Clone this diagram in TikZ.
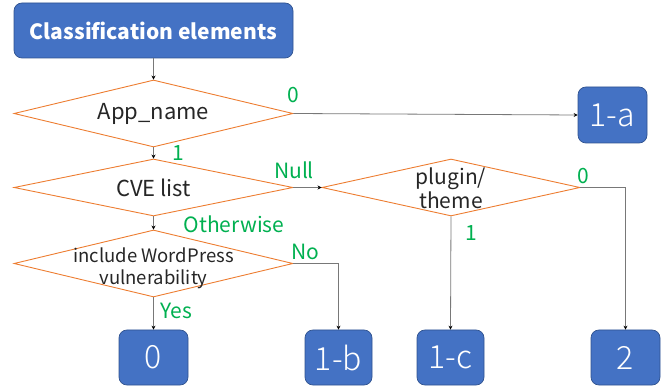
\documentclass[tikz,border=0pt]{standalone}
\usepackage{fontspec}
\setmainfont{Noto Sans CJK JP}
\newfontfamily\lightfont{Noto Sans CJK JP}[UprightFont=* Light]
\usetikzlibrary{shapes.geometric,arrows.meta}
\definecolor{boxblue}{HTML}{4472C4}
\definecolor{boxedge}{HTML}{2F528F}
\definecolor{dorange}{HTML}{ED7D31}
\definecolor{lgreen}{RGB}{0,176,80}
\definecolor{lgray}{RGB}{120,120,120}
\tikzset{
  bluebox/.style={draw=boxedge, line width=0.7pt, fill=boxblue, rounded corners=8pt, text=white, inner sep=0pt, font=\lightfont\fontsize{32}{34}\selectfont},
  decision/.style={diamond, draw=dorange, line width=0.9pt, inner sep=0pt},
  dtext/.style={text=black!85, font=\fontsize{22}{24}\selectfont, align=center},
  conn/.style={draw=lgray, line width=0.8pt, -{Stealth[length=4pt,width=4pt,color=black]}},
  lab/.style={text=lgreen, font=\fontsize{21}{22}\selectfont, inner sep=0pt}
}
\begin{document}
\begin{tikzpicture}[x=1pt,y=-1pt]
\useasboundingbox (0,0) rectangle (662,390);
% boxes
\node[bluebox, minimum width=279pt, minimum height=55pt, font=\fontsize{21}{22}\selectfont\bfseries] (title) at (153.5,30.5) {Classification elements};
\node[bluebox, minimum width=69pt, minimum height=56pt] (b1a) at (612.5,115) {1-a};
\node[bluebox, minimum width=69pt, minimum height=55pt] (b0) at (153.5,357.5) {0};
\node[bluebox, minimum width=67pt, minimum height=55pt] (b1b) at (338.5,357.5) {1-b};
\node[bluebox, minimum width=67pt, minimum height=55pt] (b1c) at (450.5,357.5) {1-c};
\node[bluebox, minimum width=69pt, minimum height=55pt] (b2) at (625.5,357.5) {2};
% decisions
\node[decision, minimum width=279pt, minimum height=67pt] (app) at (153.5,113.5) {};
\node[decision, minimum width=279pt, minimum height=57pt] (cve) at (153.5,187.5) {};
\node[decision, minimum width=279pt, minimum height=67pt] (wp) at (153.5,263.5) {};
\node[decision, minimum width=258pt, minimum height=57pt] (plug) at (451,187.5) {};
\node[dtext] (appt) at (app.center) {App\_name};
\node[dtext] (cvet) at (cve.center) {CVE list};
\node[dtext, font=\fontsize{18.5}{22}\selectfont] (wpt) at (153.5,268) {include WordPress\\vulnerability};
\node[dtext, font=\fontsize{21}{24}\selectfont] (plugt) at (451,188) {plugin/\\theme};
% connectors
\draw[conn] (title.south) -- (app.north);
\draw[conn] (app.south) -- (cve.north);
\draw[conn] (cve.south) -- (wp.north);
\draw[conn] (app.east) -- (b1a.west);
\draw[conn] (cve.east) -- (plug.west);
\draw[conn] (plug.east) -| (b2.north);
\draw[conn] (plug.south) -- (b1c.north);
\draw[conn] (wp.east) -| (b1b.north);
\draw[conn] (wp.south) -- (b0.north);
% labels
\node[lab] (l1) at (293,95) {0};
\node[lab] (l2) at (178,153) {1};
\node[lab] (l3) at (294,170) {Null};
\node[lab] (l4) at (234,224) {Otherwise};
\node[lab] (l5) at (305,252) {No};
\node[lab] (l6) at (176,311) {Yes};
\node[lab] (l7) at (583,176) {0};
\node[lab] (l8) at (471,233) {1};
\end{tikzpicture}
\end{document}
